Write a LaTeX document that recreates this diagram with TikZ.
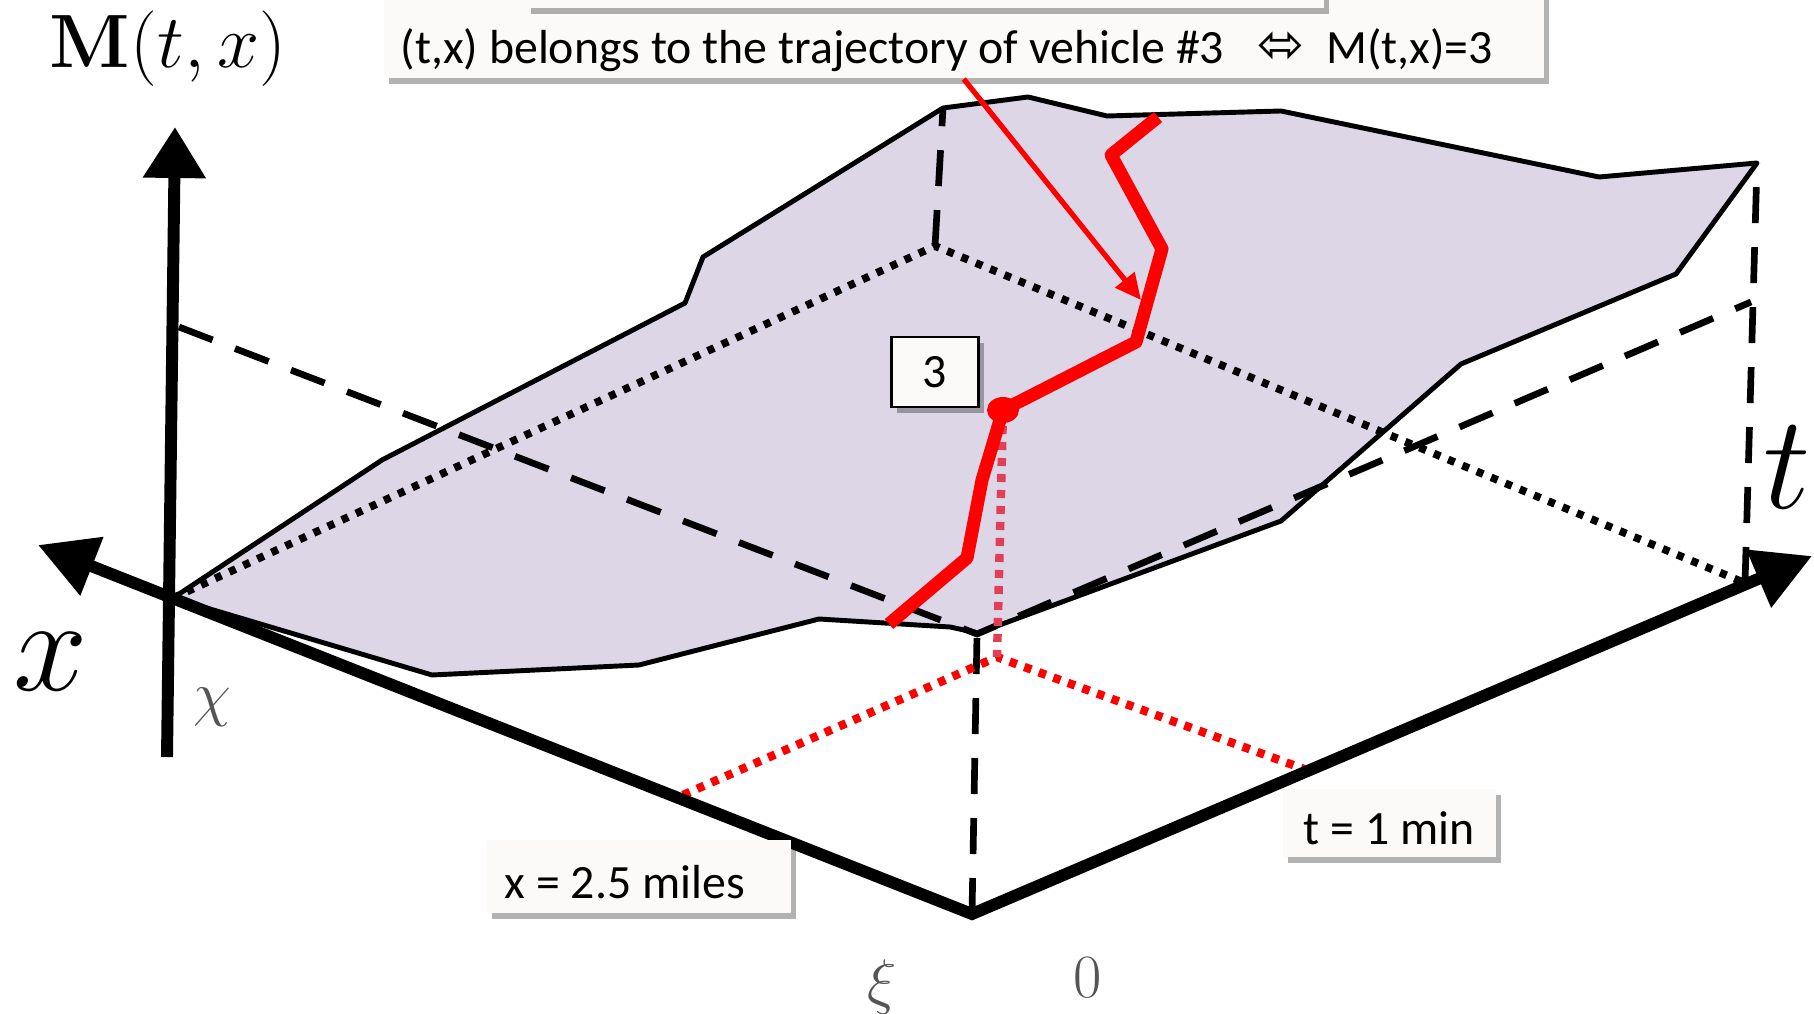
\RequirePackage{fix-cm}
\documentclass[tikz,border=0pt]{standalone}
\usepackage[no-math]{fontspec}
\usepackage{amsmath}
\usepackage{xcolor}
\usepackage{tikz}
\usetikzlibrary{arrows.meta, shadows}
\newfontfamily\lblfont{Carlito}
\newfontfamily\glyphfont{DejaVu Sans}
\definecolor{lav}{RGB}{220,214,230}
\definecolor{paper}{RGB}{251,250,249}
\definecolor{crim}{RGB}{224,64,85}
\definecolor{greek}{RGB}{85,85,85}
\tikzset{
  bigtip/.tip     ={Triangle[length=5.8mm, width=6mm]},
  vtip/.tip       ={Triangle[length=5.1mm, width=6mm]},
  redtip/.tip     ={Triangle[length=2.6mm, width=2.4mm]},
  axisline/.style ={line width=3.4pt, line join=miter},
  surf/.style     ={draw=black, line width=1.4pt, fill=lav, line join=round},
  dashline/.style ={line width=1.9pt, dash pattern=on 0.36cm off 0.24cm},
  dotline/.style  ={line width=2.2pt, dash pattern=on 0.07cm off 0.085cm},
  reddot/.style   ={red, line width=2.4pt, dash pattern=on 0.075cm off 0.08cm},
  crimdot/.style  ={crim, line width=2.4pt, dash pattern=on 0.08cm off 0.08cm},
  traj/.style     ={red, line width=3.7pt, line join=round},
  pointer/.style  ={red, line width=1.5pt, -redtip},
  textbox/.style  ={fill=paper, inner ysep=0pt, align=flush left,
                    font=\lblfont\fontsize{13.6}{16}\selectfont,
                    drop shadow={shadow xshift=0.05cm, shadow yshift=-0.06cm, opacity=0.3, fill=black}},
  mathlbl/.style  ={anchor=base, inner sep=0pt},
  greeklbl/.style ={mathlbl, color=greek, font=\fontsize{17.5}{20}\selectfont},
}
\begin{document}
\begin{tikzpicture}[x=1cm, y=1cm]
\useasboundingbox (0,0) rectangle (18.14,10.13);
\clip (0,0) rectangle (18.14,10.13);

% frame of the (t,x) plane
\coordinate (O)    at (9.72, 0.99);
\coordinate (xtip) at (0.38, 4.68);
\coordinate (ttip) at (18.12, 4.57);
\coordinate (vbot) at (1.67, 2.56);
\coordinate (vtop) at (1.75, 8.86);
\coordinate (A)    at (1.73, 4.15);
\coordinate (B)    at (9.35, 7.67);
\coordinate (R)    at (17.45, 4.30);
\coordinate (L2)   at (1.79, 6.86);
\coordinate (F2)   at (9.77, 3.79);
\coordinate (R2)   at (17.51, 7.11);

% surface M(t,x)
\draw[surf] (A) -- (3.82,5.53) -- (6.85,7.10) -- (7.03,7.56) -- (9.43,9.05) coordinate (S4)
  -- (10.28,9.16) -- (11.07,8.97) -- (12.81,9.02) -- (15.99,8.36) -- (17.57,8.50) coordinate (S9)
  -- (16.76,7.39) -- (14.61,6.49) -- (12.81,4.92) -- (9.78,3.80) -- (9.50,3.86)
  -- (8.19,3.94) -- (6.39,3.48) -- (4.32,3.38) -- cycle;

\draw[dotline] (A) -- (B) -- (R);
\draw[dashline] (L2) -- (F2) -- (R2);
\draw[dashline] (O) -- (F2);
\draw[dashline] (B) -- (S4);
\draw[dashline] (R) -- (S9);

% trajectory of vehicle 3
\coordinate (T0) at (8.89, 3.89);
\coordinate (T1) at (9.67, 4.55);
\coordinate (T2) at (9.82, 5.33);
\coordinate (T3) at (10.03, 6.03);
\coordinate (T4) at (11.36, 6.71);
\coordinate (T5) at (11.62, 7.64);
\coordinate (T6) at (11.11, 8.58);
\coordinate (T7) at (11.58, 8.96);
\coordinate (P)  at (9.97, 3.56);
\coordinate (Xp) at (6.83, 2.18);
\coordinate (Tp) at (13.04, 2.44);
\coordinate (hit) at (11.41, 7.13);

\draw[reddot] (Xp) -- (P) -- (Tp);
\draw[crimdot] (T3) -- (P);

\draw[axisline, bigtip-bigtip] (xtip) -- (O) -- (ttip);
\draw[axisline, -vtip] (vbot) -- (vtop);

\draw[traj] (T0) -- (T1) -- (T2) -- (T3) -- (T4) -- (T5) -- (T6) -- (T7);
\fill[red] (T3) ellipse (0.16 and 0.13);

% labels
\node[mathlbl, font=\fontsize{21.5}{24}\selectfont] (mlbl) at (1.68, 9.45) {$\mathbf{M}(t,x)$};
\node[mathlbl, font=\fontsize{38}{40}\selectfont] (xlbl) at (0.51, 3.23) {$x$};
\node[mathlbl, font=\fontsize{38}{40}\selectfont] (tlbl) at (17.87, 5.04) {$t$};
\node[greeklbl] (chilbl) at (2.12, 2.99) {$\chi$};
\node[greeklbl] (xilbl) at (8.82, 0.11) {$\xi$};
\node[greeklbl] (zerolbl) at (10.88, 0.16) {$0$};

\node[textbox, draw=black, line width=0.75pt, inner sep=0pt, align=center,
      minimum width=0.87cm, minimum height=0.70cm] (veh) at (9.35, 6.41) {3};
\node[textbox, anchor=south west, text width=2.68cm, inner xsep=0.18cm,
      text height=0.58cm, text depth=0.15cm] (xlen) at (4.86, 0.99) {x = 2.5 miles};
\node[textbox, anchor=south west, align=center, inner xsep=0pt, minimum width=2.13cm,
      text height=0.55cm, text depth=0.13cm] (tlen) at (12.82, 1.55) {t = 1 min};
\node[textbox, anchor=south west, text width=11.26cm, inner xsep=0.17cm,
      text height=0.8cm, text depth=0.15cm] (claim) at (3.83, 9.34)
  {(t,x) belongs to the trajectory of vehicle \#3\hspace{0.7em}{\glyphfont\fontsize{16}{16}\selectfont ⬄}\hspace{0.45em}M(t,x)=3};
\node[textbox, minimum width=7.98cm, minimum height=0.6cm] (upper) at (9.25, 10.35) {};

\draw[pointer] (claim.south) -- (hit);
\end{tikzpicture}
\end{document}
